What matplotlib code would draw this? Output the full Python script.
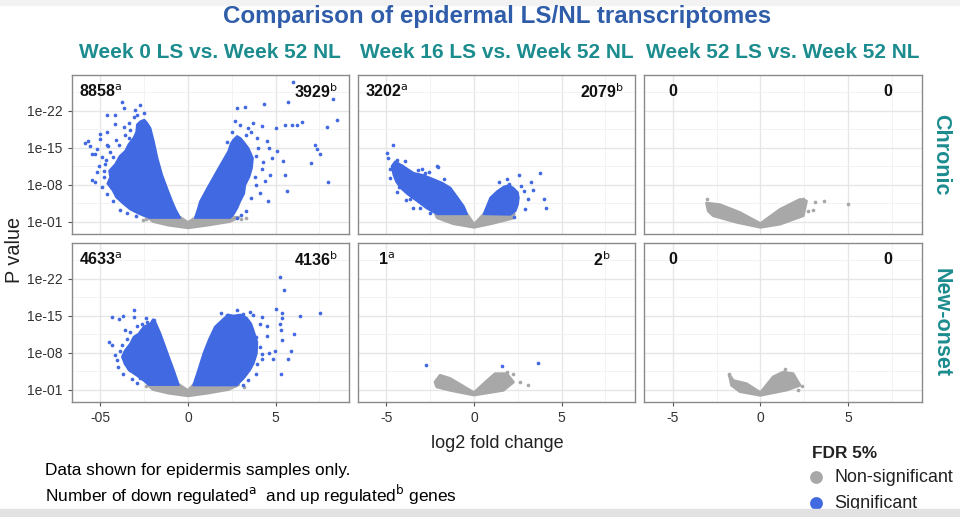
import matplotlib
matplotlib.use("Agg")
import matplotlib.pyplot as plt
from matplotlib.patches import Polygon, Rectangle

plt.rcParams['font.family'] = ['Liberation Sans', 'DejaVu Sans']

BLUE = '#4169E1'
GRAY = '#A8A8A8'
TEAL = '#1C8C8E'
TITLE_BLUE = '#2F5DA9'

# ---------------- text / labels ----------------
main_title = "Comparison of epidermal LS/NL transcriptomes"
col_titles = ["Week 0 LS vs. Week 52 NL", "Week 16 LS vs. Week 52 NL", "Week 52 LS vs. Week 52 NL"]
row_titles = ["Chronic", "New-onset"]
down_counts = [["8858", "3202", "0"], ["4633", "1", "0"]]
up_counts = [["3929", "2079", "0"], ["4136", "2", "0"]]
show_sup = [[True, True, False], [True, True, False]]
ytick_vals = [1, 8, 15, 22]
ytick_labels = ["1e-01", "1e-08", "1e-15", "1e-22"]
xtick_vals = [-5, 0, 5]
xtick_labels_first = ["-05", "0", "5"]
xtick_labels_other = ["-5", "0", "5"]
legend_labels = ["Non-significant", "Significant"]

# ---------------- data (x = log2 FC, y = -log10 p) ----------------
# Chronic, week 0
c0_gray_core = [(-2.3, 1.8), (-0.45, 1.8), (0, 0.8), (0.45, 1.8), (2.9, 1.8), (2.4, 1.0),
                (1.1, 0.3), (0, -0.2), (-1.1, 0.3), (-2.0, 1.0)]
c0_blue_left_core = [(-0.45, 1.7), (-0.7, 3.2), (-0.91, 4.8), (-1.2, 7.3), (-1.49, 9.9), (-1.75, 13.0),
                     (-1.96, 16.2), (-2.15, 18.7), (-2.34, 19.7), (-2.5, 20.3), (-2.72, 20.0),
                     (-2.91, 19.4), (-2.95, 18.0), (-3.1, 16.9), (-3.4, 15.6), (-3.58, 14.4),
                     (-3.9, 13.4), (-4.15, 11.9), (-4.5, 10.6), (-4.44, 9.4), (-4.6, 8.2),
                     (-4.3, 6.9), (-4.1, 5.6), (-3.7, 4.4), (-3.3, 3.3), (-2.82, 2.5), (-2.25, 1.7)]
c0_blue_right_core = [(0.4, 1.7), (0.55, 3.2), (0.69, 4.8), (1.1, 7.3), (1.54, 9.9), (1.9, 12.0),
                      (2.3, 14.3), (2.45, 15.8), (2.59, 16.5), (2.8, 17.2), (3.0, 16.8), (3.2, 16.0),
                      (3.45, 14.9), (3.7, 13.0), (3.64, 11.1), (3.5, 9.5), (3.26, 7.9), (3.2, 6.3),
                      (2.97, 4.8), (2.8, 3.5), (2.59, 2.3), (2.4, 1.7)]
c0_blue_pts = [(-3.77, 23.7), (-3.68, 22.6), (-2.76, 23.2), (-4.63, 21.2), (-4.19, 21.3), (-3.01, 22.1),
               (-3.1, 20.8), (-4.15, 19.5), (-3.68, 18.9), (-4.63, 17.9), (-5.87, 15.9), (-5.71, 16.2),
               (-5.58, 15.3), (-5.49, 13.8), (-5.34, 13.8), (-5.01, 17.6), (-5.01, 16.7), (-5.2, 14.8),
               (-4.92, 13.2), (-5.49, 8.9), (-5.3, 8.5), (-4.72, 12.0), (-4.82, 10.5), (-4.34, 8.3),
               (-3.77, 5.8), (-3.2, 3.9), (-2.63, 2.6), (-3.39, 16.9), (-3.96, 15.6), (-4.44, 14.1),
               (-3.5, 12.0), (-4.0, 10.5), (-2.5, 21.5), (-3.3, 18.3), (-4.6, 15.5),
               (-4.8, 9.5), (-4.9, 7.6), (-4.6, 6.2), (-4.3, 4.9), (-3.9, 3.2), (-3.5, 2.6),
               (-5.1, 11.5), (-4.7, 12.6), (-4.3, 13.2), (-4.1, 16.4), (-3.6, 17.4), (-3.4, 19.6),
               (-2.9, 21.2), (-5.2, 10.3), (-3.0, 2.1), (-4.55, 15.3),
               (5.98, 27.5), (8.27, 24.3), (5.73, 23.7), (4.34, 23.3), (2.82, 22.6), (3.28, 22.8),
               (8.5, 20.2), (7.92, 19.0), (5.92, 19.3), (6.21, 19.3), (6.5, 19.9), (5.54, 19.3),
               (5.03, 18.7), (2.69, 20.1), (2.97, 19.3), (3.73, 19.6), (4.21, 19.1), (7.26, 15.6),
               (7.35, 14.7), (7.54, 13.8), (7.0, 12.1), (8.02, 8.5), (5.64, 6.7), (4.59, 4.8),
               (4.69, 9.9), (5.54, 9.9), (3.92, 16.8), (4.5, 16.2), (5.07, 14.3), (5.45, 12.5),
               (4.78, 13.1), (4.4, 8.7), (2.78, 1.7), (3.9, 13.5), (4.2, 11.0), (3.6, 18.0),
               (4.0, 15.0), (3.3, 17.5), (4.1, 6.5), (3.8, 9.5),
               (3.9, 8.0), (3.6, 5.5), (3.3, 3.0), (4.3, 12.3), (3.4, 18.8), (2.5, 18.0),
               (2.2, 16.0), (4.6, 15.0), (3.0, 2.3)]
c0_gray_pts = [(-2.4, 1.5), (3.0, 1.4), (3.3, 1.6), (-2.6, 1.2)]

# Chronic, week 16
c16_gray_core = [(-2.2, 2.4), (-0.4, 2.4), (0, 0.45), (0.55, 2.4), (2.3, 2.4), (2.2, 1.6),
                 (1.0, 0.6), (0, -0.1), (-1.2, 0.6), (-2.1, 1.7)]
c16_blue_left_core = [(-0.4, 2.4), (-0.59, 3.9), (-1.0, 5.8), (-1.35, 7.4), (-1.8, 8.3), (-2.3, 9.0),
                      (-2.9, 9.8), (-3.45, 10.2), (-4.0, 11.4), (-4.5, 12.4), (-4.7, 11.5),
                      (-4.6, 9.9), (-4.45, 8.6), (-4.2, 7.4), (-3.8, 6.2), (-3.26, 4.9),
                      (-2.7, 3.5), (-2.1, 2.4)]
c16_blue_right_core = [(0.55, 2.4), (0.75, 4.0), (0.93, 5.5), (1.31, 6.7), (1.7, 7.6), (2.0, 7.9),
                       (2.27, 7.3), (2.5, 6.5), (2.55, 5.5), (2.5, 4.2), (2.37, 3.0), (2.08, 2.3)]
c16_blue_pts = [(-4.65, 15.6), (-4.97, 14.0), (-4.91, 13.1), (-4.82, 10.9), (-4.4, 12.7),
                (-3.92, 12.4), (-2.11, 11.6), (-2.05, 11.3), (-2.78, 10.2), (-4.3, 7.6),
                (-3.64, 5.3), (-3.49, 3.6), (-3.83, 6.7), (-4.1, 11.5), (-3.2, 10.8),
                (-4.8, 9.3), (-4.4, 6.6), (-3.9, 5.0), (-3.1, 3.6), (-2.5, 2.6), (-1.7, 9.0),
                (-2.6, 10.4), (-3.0, 10.9),
                (2.55, 9.9), (3.75, 10.2), (1.88, 9.0), (1.41, 8.5), (3.26, 8.5), (3.37, 7.0),
                (2.84, 6.8), (3.07, 5.2), (4.02, 5.2), (4.13, 3.6), (2.93, 3.3), (2.27, 1.9),
                (2.0, 8.2), (2.7, 7.8)]
c16_gray_pts = []

# Chronic, week 52
c52_gray_core = [(-3.08, 4.5), (-2.32, 4.2), (-1.17, 2.7), (0, 0.6), (1.12, 3.3), (2.26, 5.2),
                 (2.63, 4.9), (2.45, 2.1), (1.12, 0.5), (0, -0.1), (-1.36, 0.85), (-2.7, 2.1),
                 (-2.98, 3.0)]
c52_blue_pts = []
c52_gray_pts = [(-3.08, 5.3), (3.11, 4.65), (3.63, 4.8), (3.0, 3.2), (2.73, 2.9), (2.45, 5.2), (5.0, 4.3)]

# New-onset, week 0
n0_gray_core = [(-2.3, 1.9), (-0.5, 1.9), (0, 0.8), (0.3, 1.9), (2.9, 1.9), (2.3, 1.0),
                (1.1, 0.3), (0, -0.2), (-1.1, 0.3), (-2.0, 1.0)]
n0_blue_left_core = [(-0.53, 1.87), (-0.8, 4.5), (-1.1, 7.2), (-1.35, 9.5), (-1.58, 11.6),
                     (-1.87, 13.8), (-2.0, 14.3), (-2.15, 13.5), (-2.53, 12.9), (-2.82, 11.6),
                     (-3.1, 11.0), (-3.3, 9.7), (-3.6, 8.4), (-3.77, 7.2), (-3.6, 5.8),
                     (-3.39, 4.7), (-2.82, 3.4), (-2.5, 2.6), (-2.25, 1.87)]
n0_blue_right_core = [(0.3, 1.8), (0.6, 4.8), (0.88, 7.8), (1.2, 10.5), (1.54, 12.9), (2.02, 14.4),
                      (2.3, 15.2), (2.59, 15.0), (3.0, 15.2), (3.35, 14.6), (3.6, 13.5), (3.73, 12.3),
                      (3.95, 10.0), (3.92, 7.8), (3.75, 6.0), (3.54, 4.7), (3.2, 3.2), (2.78, 1.8)]
n0_blue_pts = [(-4.34, 14.7), (-3.96, 14.4), (-3.73, 15.0), (-3.1, 16.0), (-3.1, 14.7),
               (-2.63, 13.5), (-2.34, 13.8), (-1.96, 14.2), (-4.53, 10.1), (-4.34, 9.5),
               (-4.15, 7.5), (-4.06, 6.6), (-3.58, 12.2), (-3.49, 10.6), (-3.77, 9.4),
               (-3.3, 4.7), (-2.72, 3.1), (-3.58, 6.0), (-2.9, 13.0),
               (-3.9, 8.3), (-4.0, 5.3), (-3.7, 4.0), (-3.2, 3.0), (-2.9, 2.3), (-3.3, 12.0),
               (-2.4, 14.5),
               (5.26, 22.3), (5.49, 19.8), (5.03, 16.3), (5.35, 15.5), (5.35, 14.6), (5.26, 13.5),
               (5.3, 12.2), (5.35, 10.3), (6.4, 14.9), (7.54, 15.5), (6.08, 11.5), (5.87, 8.3),
               (4.97, 8.3), (4.65, 8.0), (4.88, 6.7), (5.73, 6.8), (5.31, 3.9), (4.21, 14.8),
               (4.5, 13.1), (4.53, 11.1), (3.54, 15.8), (3.16, 15.3), (2.21, 15.1), (2.5, 14.2),
               (4.11, 13.5), (3.83, 9.7), (4.21, 7.8), (3.92, 5.9), (3.45, 2.8), (3.16, 1.8),
               (2.88, 3.4), (3.9, 11.0),
               (4.1, 9.0), (4.2, 6.7), (3.9, 4.0), (1.9, 15.6), (2.8, 16.0), (3.7, 15.2)]
n0_gray_pts = [(-2.4, 1.6), (3.2, 1.5)]

# New-onset, week 16
n16_gray_core = [(-2.23, 2.4), (-1.94, 3.7), (-1.37, 3.1), (0, 0.4), (0.72, 2.6), (1.2, 4.0),
                 (1.87, 4.0), (2.25, 2.4), (1.68, 0.85), (0, -0.05), (-1.37, 0.85), (-2.13, 1.5)]
n16_blue_pts = [(-2.74, 5.6), (1.58, 5.5), (3.67, 6.0)]
n16_gray_pts = [(3.1, 1.95), (2.63, 2.4), (2.25, 4.0), (1.87, 4.4), (-1.75, 1.5)]

# New-onset, week 52
n52_gray_core = [(-1.78, 3.8), (-1.55, 2.7), (-0.79, 2.1), (0, 0.4), (0.73, 3.4), (1.3, 4.3),
                 (1.87, 4.0), (2.26, 1.8), (1.5, 0.9), (0, -0.1), (-1.17, 0.6), (-1.65, 1.8)]
n52_blue_pts = []
n52_gray_pts = [(1.4, 4.9), (-1.78, 3.9), (2.16, 0.9), (2.4, 1.6)]

panels = [
    [dict(gray=c0_gray_core, blue=[c0_blue_left_core, c0_blue_right_core], bp=c0_blue_pts, gp=c0_gray_pts),
     dict(gray=c16_gray_core, blue=[c16_blue_left_core, c16_blue_right_core], bp=c16_blue_pts, gp=c16_gray_pts),
     dict(gray=c52_gray_core, blue=[], bp=c52_blue_pts, gp=c52_gray_pts)],
    [dict(gray=n0_gray_core, blue=[n0_blue_left_core, n0_blue_right_core], bp=n0_blue_pts, gp=n0_gray_pts),
     dict(gray=n16_gray_core, blue=[], bp=n16_blue_pts, gp=n16_gray_pts),
     dict(gray=n52_gray_core, blue=[], bp=n52_blue_pts, gp=n52_gray_pts)],
]

# ---------------- figure ----------------
W, H = 960, 517
fig = plt.figure(figsize=(W / 100, H / 100), dpi=100)
fig.patch.set_facecolor('white')

# slide edge bands
fig.patches.append(Rectangle((0, 0), 1, 8 / H, transform=fig.transFigure, color='#e2e2e2', zorder=0))
fig.patches.append(Rectangle((0, 1 - 5 / H), 1, 5 / H, transform=fig.transFigure, color='#f2f2f2', zorder=0))

col_left = [71.6, 357.6, 644.0]
col_w = 277.5
row_top = [75, 243]
row_h = 159
XLIM = (-6.65, 9.2)
YLIM = (-1.37, 28.8)


def fx(px):
    return px / W


def fy(py):
    return 1 - py / H


def draw_points(ax, pts, color):
    if pts:
        xs = [p[0] for p in pts]
        ys = [p[1] for p in pts]
        ax.scatter(xs, ys, s=7, color=color, linewidths=0, zorder=4)


for r in range(2):
    for c in range(3):
        ax = fig.add_axes([fx(col_left[c]), fy(row_top[r] + row_h), col_w / W, row_h / H])
        ax.set_xlim(*XLIM)
        ax.set_ylim(*YLIM)
        ax.set_facecolor('white')
        ax.set_xticks(xtick_vals)
        ax.set_xticks([-2.5, 2.5, 7.5], minor=True)
        ax.set_yticks(ytick_vals)
        ax.set_yticks([4.5, 11.5, 18.5, 25.5], minor=True)
        ax.grid(True, which='major', color='#e6e6e6', lw=1.0, zorder=0)
        ax.grid(True, which='minor', color='#f1f1f1', lw=0.6, zorder=0)
        ax.set_axisbelow(True)
        for s in ax.spines.values():
            s.set_color('#8a8a8a')
            s.set_linewidth(1.0)
        ax.tick_params(which='minor', length=0)
        ax.tick_params(which='major', length=3, color='#555555', width=0.8,
                       labelsize=10, labelcolor='#333333')
        if c == 0:
            ax.set_yticklabels(ytick_labels)
        else:
            ax.tick_params(axis='y', which='major', length=0, labelleft=False)
        if r == 1:
            ax.set_xticklabels(xtick_labels_first if c == 0 else xtick_labels_other)
        else:
            ax.tick_params(axis='x', which='major', length=0, labelbottom=False)

        pdat = panels[r][c]
        ax.add_patch(Polygon(pdat['gray'], closed=True, facecolor=GRAY, edgecolor=GRAY,
                             lw=2.0, joinstyle='round', zorder=2))
        draw_points(ax, pdat['gp'], GRAY)
        for poly in pdat['blue']:
            ax.add_patch(Polygon(poly, closed=True, facecolor=BLUE, edgecolor=BLUE,
                                 lw=1.5, joinstyle='round', zorder=3))
        draw_points(ax, pdat['bp'], BLUE)

        sup_a = '$^{\\mathrm{a}}$' if show_sup[r][c] else ''
        sup_b = '$^{\\mathrm{b}}$' if show_sup[r][c] else ''
        ax.text(-5.0, 25.6, down_counts[r][c] + sup_a, ha='center', va='center',
                fontsize=11.5, fontweight='bold', color='#111111', zorder=5)
        ax.text(7.3, 25.6, up_counts[r][c] + sup_b, ha='center', va='center',
                fontsize=11.5, fontweight='bold', color='#111111', zorder=5)

# column titles
for c in range(3):
    fig.text(fx(col_left[c] + col_w / 2), fy(53), col_titles[c], ha='center', va='center',
             fontsize=15, fontweight='bold', color=TEAL)

# row strip labels
for r in range(2):
    fig.text(fx(941), fy(row_top[r] + row_h / 2), row_titles[r], ha='center', va='center',
             rotation=-90, fontsize=15.5, fontweight='bold', color=TEAL)

# main title
fig.text(fx(497), fy(17), main_title, ha='center', va='center', fontsize=17.4,
         fontweight='bold', color=TITLE_BLUE)

# axis labels
fig.text(fx(14), fy(250), "P value", ha='center', va='center', rotation=90,
         fontsize=14.3, color='#222222')
fig.text(fx(497), fy(443), "log2 fold change", ha='center', va='center',
         fontsize=13, color='#222222')

# footnotes
fig.text(fx(45), fy(470), "Data shown for epidermis samples only.", ha='left', va='center',
         fontsize=12.4, color='black')
fig.text(fx(45), fy(495), "Number of down regulated$^{\\mathrm{a}}$  and up regulated$^{\\mathrm{b}}$ genes",
         ha='left', va='center', fontsize=12.4, color='black')

# legend
fig.text(fx(812), fy(453), "FDR 5%", ha='left', va='center', fontsize=12.4,
         fontweight='bold', color='#222222')
leg_ax = fig.add_axes([0, 0, 1, 1], facecolor='none')
leg_ax.set_xlim(0, W)
leg_ax.set_ylim(H, 0)
leg_ax.axis('off')
leg_colors = [GRAY, BLUE]
leg_y = [477, 503]
for lab, col, yy in zip(legend_labels, leg_colors, leg_y):
    leg_ax.scatter([816], [yy], s=85, color=col, linewidths=0)
    leg_ax.text(834, yy, lab, ha='left', va='center', fontsize=12.9, color='#222222')

fig.savefig('out.png', dpi=100, facecolor=fig.get_facecolor())
